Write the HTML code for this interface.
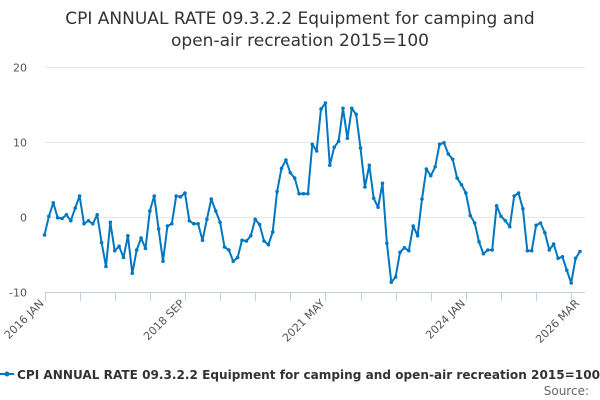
<!DOCTYPE html>
<html><head><meta charset="utf-8"><style>
body{margin:0;background:#fff;font-family:"DejaVu Sans","Liberation Sans",sans-serif;}
#wrap{position:relative;width:600px;height:400px;overflow:hidden;}
</style></head><body>
<div id="wrap">
<svg id="chart" width="600" height="400">
<text x="300" y="24" text-anchor="middle" font-size="17" fill="#333">CPI ANNUAL RATE 09.3.2.2 Equipment for camping and</text>
<text x="300" y="46" text-anchor="middle" font-size="17" fill="#333">open-air recreation 2015=100</text>
<g id="grid"></g><g id="axes"></g><g id="series"></g>
<g>
<line x1="0" y1="374" x2="14" y2="374" stroke="#0077c0" stroke-width="2"/>
<circle cx="7" cy="374" r="2.5" fill="#0077c0"/>
<text x="17" y="379" font-size="12.5" font-weight="bold" fill="#333" textLength="583" lengthAdjust="spacingAndGlyphs">CPI ANNUAL RATE 09.3.2.2 Equipment for camping and open-air recreation 2015=100</text>
</g>
<text x="589" y="395" text-anchor="end" font-size="12" fill="#666">Source:</text>
</svg></div>
<script>
const values=[-2.4,0.1,1.9,-0.1,-0.2,0.3,-0.5,1.2,2.8,-0.9,-0.5,-0.9,0.3,-3.4,-6.6,-0.7,-4.5,-3.9,-5.4,-2.5,-7.5,-4.4,-2.8,-4.2,0.8,2.8,-1.6,-5.9,-1.2,-0.9,2.8,2.7,3.2,-0.5,-0.9,-0.9,-3.1,-0.3,2.4,0.8,-0.7,-4.0,-4.4,-5.9,-5.4,-3.1,-3.2,-2.5,-0.3,-1.0,-3.2,-3.7,-2.0,3.4,6.5,7.6,5.9,5.2,3.1,3.1,3.1,9.7,8.8,14.4,15.2,6.9,9.3,10.1,14.5,10.5,14.5,13.7,9.2,4.0,6.9,2.5,1.3,4.5,-3.5,-8.7,-8.0,-4.7,-4.1,-4.5,-1.2,-2.5,2.4,6.4,5.5,6.7,9.7,9.9,8.4,7.7,5.2,4.3,3.2,0.2,-0.8,-3.3,-4.9,-4.4,-4.4,1.5,0.1,-0.5,-1.3,2.8,3.2,1.1,-4.5,-4.5,-1.1,-0.8,-2.1,-4.4,-3.6,-5.5,-5.3,-7.1,-8.8,-5.5,-4.6];
const yTicks=[20,10,0,-10];
const xLabelIdx=[0,32,64,96,122];
const xLabels=["2016 JAN","2018 SEP","2021 MAY","2024 JAN","2026 MAR"];
const NS="http://www.w3.org/2000/svg";
const x0=44.5,x1=580,yTop=67,yBot=292,vMax=20,vMin=-10;
const n=values.length;
function xs(i){return x0+(x1-x0)*i/(n-1);}
function ys(v){return yTop+(vMax-v)/(vMax-vMin)*(yBot-yTop);}
function mk(tag,attrs,parent){const e=document.createElementNS(NS,tag);for(const k in attrs)e.setAttribute(k,attrs[k]);parent.appendChild(e);return e;}
const grid=document.getElementById('grid'),axes=document.getElementById('axes'),ser=document.getElementById('series');
yTicks.forEach(t=>{
 const y=Math.round(ys(t))+0.5;
 if(t!==vMin){const l=mk('line',{x1:x0,x2:x1+5,y1:y,y2:y,stroke:'#e6e6e6'},grid);
 
 }
 const tx=mk('text',{x:27,y:y+4,'text-anchor':'end','font-size':11,fill:'#555'},axes);
 tx.textContent=t;
 
 
});
const ax=mk('line',{x1:x0,x2:x1+5,y1:yBot+0.5,y2:yBot+0.5,stroke:'#c0d0e0'},axes);


for(let i=0;i<n;i+=8){const x=Math.round(xs(i))+0.5;const t=mk('line',{x1:x,x2:x,y1:yBot,y2:yBot+9,stroke:'#c0d0e0'},axes);
 
 }
xLabelIdx.forEach((idx,k)=>{
 const x=xs(idx),y=yBot+12;
 const tx=mk('text',{x:x,y:y,'text-anchor':'end','font-size':11,fill:'#555',transform:`rotate(-45 ${x} ${y})`},axes);
 tx.textContent=xLabels[k];
 
 
});
const pts=values.map((v,i)=>xs(i).toFixed(1)+','+ys(v).toFixed(1)).join(' ');
const pl=mk('polyline',{points:pts,fill:'none',stroke:'#0077c0','stroke-width':2,'stroke-linejoin':'round'},ser);


values.forEach((v,i)=>{const c=mk('circle',{cx:xs(i),cy:ys(v),r:1.8,fill:'#0077c0'},ser);
 
 });
</script>
</body></html>
